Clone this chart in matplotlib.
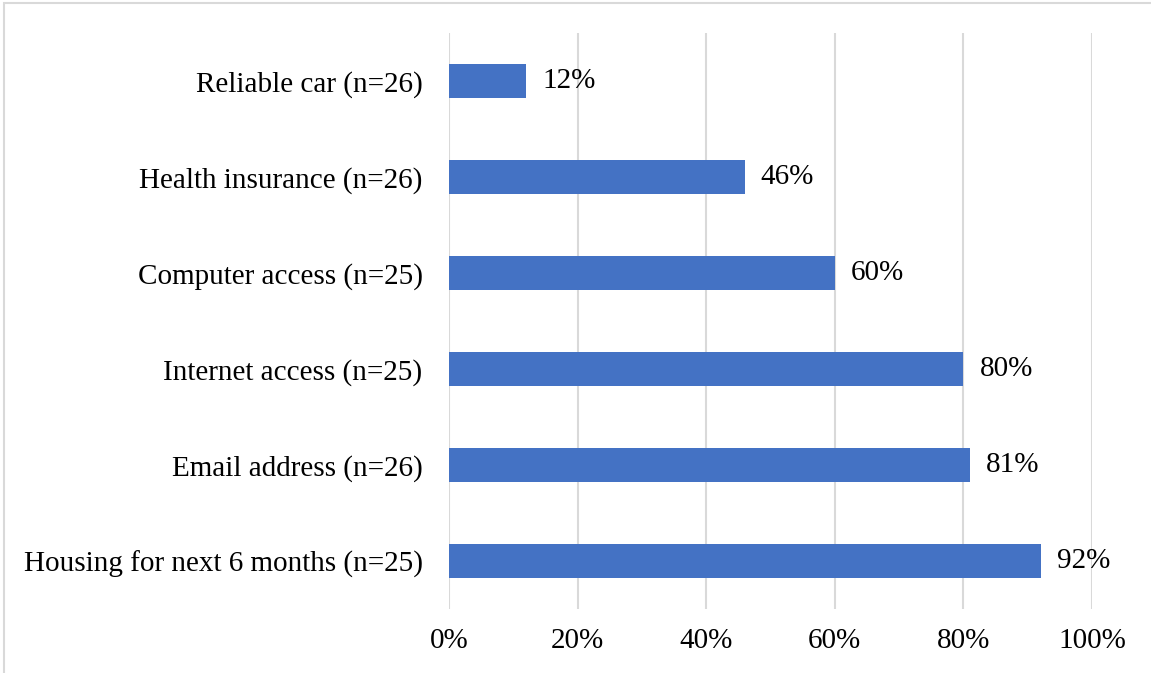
import matplotlib.pyplot as plt
from matplotlib.patches import Rectangle

# Données
categories = [
    "Housing for next 6 months (n=25)",
    "Email address (n=26)",
    "Internet access (n=25)",
    "Computer access (n=25)",
    "Health insurance (n=26)",
    "Reliable car (n=26)",
]
values = [0.92, 0.81, 0.80, 0.60, 0.46, 0.12]
ticks = [0, 0.2, 0.4, 0.6, 0.8, 1.0]
tick_labels = ["0%", "20%", "40%", "60%", "80%", "100%"]

plt.rcParams["font.family"] = ["Liberation Serif", "DejaVu Serif"]

W, H = 1151, 673
fig = plt.figure(figsize=(W / 100, H / 100), dpi=100)
ax = fig.add_axes([449 / W, 1 - 609 / H, (1092 - 449) / W, (609 - 33) / H])

y = range(len(categories))
ax.barh(y, values, height=0.35, color="#4472C4", zorder=3)

for yi, v in zip(y, values):
    ax.text(v + 0.025, yi, f"{round(v * 100)}%", va="center", ha="left",
            fontsize=21, color="#000000")

ax.set_xlim(0, 1)
ax.set_ylim(-0.5, len(categories) - 0.5)
ax.set_yticks(list(y))
ax.set_yticklabels(categories, fontsize=21)
ax.set_xticks(ticks)
ax.set_xticklabels(tick_labels, fontsize=21)
ax.tick_params(axis="y", length=0, pad=19)
ax.tick_params(axis="x", length=0, pad=14)

ax.grid(axis="x", color="#D9D9D9", linewidth=1.5, zorder=0)
for s in ax.spines.values():
    s.set_visible(False)

# Cadre du graphique
fig.patches.append(Rectangle((4 / W, -0.1), 1.2, 1 - 3 / H + 0.1,
                             transform=fig.transFigure, fill=False,
                             edgecolor="#D9D9D9", linewidth=1.5))

plt.savefig("out.png", dpi=100)
